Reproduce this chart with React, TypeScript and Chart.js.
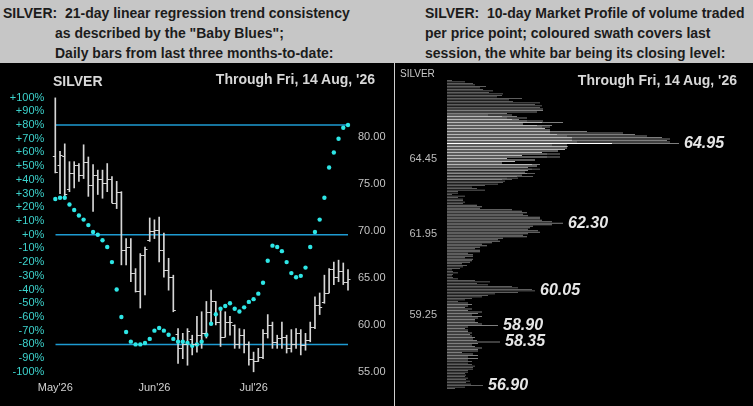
import { useEffect, useRef } from "react";
import { Chart, registerables } from "chart.js";

Chart.register(...registerables);

const FONT = "Arial, 'Liberation Sans', sans-serif";

// left panel: daily OHLC bars (price) + "Baby Blues" trend consistency (%)
const monthStarts = [0, 21, 42];
const monthLabels = ["May'26", "Jun'26", "Jul'26"];
const pctTicks = [100, 90, 80, 70, 60, 50, 40, 30, 20, 10, 0, -10, -20, -30, -40, -50, -60, -70, -80, -90, -100];
const priceTicks = [55, 60, 65, 70, 75, 80];
const trendBands = [80, 0, -80];

const opens = [
  78.0, 77.0, 78.0, 74.5, 76.2, 77.0, 76.0, 77.4, 74.9, 76.0,
  75.6, 75.1, 75.5, 73.0, 74.2, 68.0, 68.3, 65.5, 63.6, 67.4,
  69.0, 70.0, 70.1, 68.0, 65.9, 65.1, 59.0, 57.5, 58.0, 58.5,
  58.0, 58.9, 59.1, 61.4, 62.5, 60.3, 58.7, 60.3, 60.0, 58.0,
  58.9, 58.0, 56.4, 56.1, 56.6, 59.1, 60.0, 58.2, 58.6, 58.7,
  57.5, 58.0, 59.1, 57.9, 58.4, 59.8, 62.1, 62.4, 63.4, 66.0,
  65.1, 65.7, 64.6,
];
const highs = [
  84.2, 78.5, 79.3, 77.4, 77.4, 77.2, 79.2, 77.9, 77.1, 76.5,
  76.5, 77.2, 75.8, 75.3, 74.2, 69.2, 69.2, 66.0, 67.6, 68.3,
  71.4, 71.2, 71.5, 69.8, 67.1, 65.3, 59.6, 59.1, 59.6, 58.9,
  60.9, 61.4, 62.5, 63.7, 62.5, 61.8, 61.4, 60.9, 60.0, 59.6,
  59.5, 58.2, 57.1, 57.5, 59.5, 61.1, 60.3, 58.9, 60.3, 58.9,
  59.5, 59.6, 59.5, 59.1, 60.3, 63.0, 63.4, 65.3, 66.0, 66.7,
  66.9, 66.6, 65.9,
];
const lows = [
  76.2, 74.0, 73.5, 74.2, 74.6, 75.3, 75.6, 73.7, 72.1, 73.9,
  73.5, 74.2, 73.0, 72.4, 66.4, 66.4, 64.6, 63.5, 61.8, 63.2,
  68.9, 69.2, 66.7, 65.1, 63.7, 61.4, 55.9, 56.4, 55.7, 56.8,
  57.1, 57.5, 58.6, 60.0, 60.0, 57.7, 58.7, 58.9, 57.5, 57.5,
  57.0, 55.7, 55.0, 56.1, 56.4, 58.6, 57.5, 57.5, 57.5, 57.0,
  57.1, 57.5, 56.8, 57.3, 58.2, 59.6, 61.1, 62.3, 63.4, 64.3,
  64.6, 64.3, 63.7,
];
const closes = [
  76.3, 78.1, 74.0, 76.2, 77.0, 76.0, 77.4, 74.9, 76.0, 75.6,
  75.1, 75.5, 73.0, 74.2, 68.0, 68.3, 65.5, 63.6, 67.4, 68.1,
  70.0, 70.1, 68.0, 65.9, 65.1, 61.6, 57.5, 58.0, 59.3, 58.0,
  58.9, 59.1, 61.4, 62.5, 60.3, 58.7, 60.3, 60.3, 58.0, 58.9,
  58.0, 56.4, 56.1, 56.6, 59.1, 60.0, 58.2, 58.6, 58.7, 57.5,
  58.0, 59.1, 57.9, 58.4, 59.8, 62.1, 61.9, 63.4, 66.0, 65.1,
  65.7, 64.6, 64.9,
];
const trendPct = [
  26, 27, 27, 22, 18, 14, 11, 7, 2, 0,
  -4, -9, -20, -40, -60, -71, -78, -80, -80, -79,
  -76, -70, -68, -70, -73, -76, -78, -78, -79, -81,
  -80, -78, -73, -65, -58, -54, -52, -50, -54, -56,
  -53, -49, -47, -43, -35, -19, -8, -9, -12, -20,
  -28, -31, -30, -24, -9, 2, 11, 27, 49, 60,
  70, 78, 80,
];

// right panel: 10-day market profile, one bar per 0.05 from the top level down
const profileTop = 67.05;
const profileStep = 0.05;
const profileVolume = [
  5, 18, 26, 28, 39, 33, 36, 46, 42, 56,
  55, 50, 75, 62, 66, 93, 88, 95, 93, 96,
  96, 90, 60, 65, 70, 80, 72, 96, 116, 76,
  105, 103, 98, 103, 140, 176, 188, 200, 215, 223,
  220, 223, 232, 120, 121, 120, 118, 111, 95, 113,
  75, 113, 60, 88, 68, 55, 93, 90, 81, 93,
  81, 78, 88, 75, 86, 71, 65, 58, 56, 51,
  38, 25, 30, 38, 11, 11, 5, 18, 11, 16,
  16, 18, 16, 30, 35, 33, 65, 75, 80, 76,
  81, 93, 93, 95, 105, 116, 105, 86, 83, 81,
  91, 93, 81, 76, 80, 56, 51, 53, 45, 35,
  40, 33, 28, 33, 33, 21, 26, 26, 18, 26,
  25, 23, 15, 20, 16, 13, 5, 6, 11, 6,
  5, 6, 11, 28, 43, 30, 41, 65, 71, 85,
  88, 71, 48, 41, 35, 25, 18, 11, 21, 25,
  21, 18, 25, 21, 35, 31, 25, 35, 31, 28,
  28, 31, 35, 51, 21, 18, 21, 21, 25, 23,
  25, 28, 26, 30, 53, 31, 25, 28, 35, 31,
  31, 15, 26, 31, 21, 31, 21, 25, 21, 25,
  28, 26, 26, 21, 21, 18, 19, 18, 21, 19,
  23, 19, 24, 36, 18, 8,
];
const swathTop = "65.90";
const lastSessionVolume = [
  41, 55, 60, 65, 80, 95, 76, 90, 95, 98,
  103, 103, 103, 110, 120, 125, 125, 125, 130, 165,
  105, 120, 120, 118, 111, 95, 100, 75, 100, 60,
  88, 68, 55, 85, 90, 81, 85, 81, 78, 80,
  75, 70, 60, 55,
];
const closeLevel = "64.95";
const profileTicks = ["64.45", "61.95", "59.25"];
const profileCallouts = ["64.95", "62.30", "60.05", "58.90", "58.35", "56.90"];

const ohlcTicks = {
  id: "ohlcTicks",
  afterDatasetsDraw(chart: any) {
    const { ctx } = chart;
    const x = chart.scales.x;
    const y = chart.scales.yPrice;
    ctx.save();
    ctx.strokeStyle = "#d6d6d6";
    ctx.lineWidth = 1;
    ctx.beginPath();
    opens.forEach((o, i) => {
      const px = x.getPixelForValue(i);
      const yo = Math.round(y.getPixelForValue(o)) + 0.5;
      const yc = Math.round(y.getPixelForValue(closes[i])) + 0.5;
      ctx.moveTo(px - 2.5, yo);
      ctx.lineTo(px, yo);
      ctx.moveTo(px, yc);
      ctx.lineTo(px + 2.5, yc);
    });
    ctx.stroke();
    ctx.restore();
  },
};

const profileLabels = {
  id: "profileLabels",
  afterDatasetsDraw(chart: any) {
    const { ctx } = chart;
    const x = chart.scales.x;
    const y = chart.scales.y;
    const levels = chart.data.labels as string[];
    ctx.save();
    ctx.fillStyle = "#e6e6e6";
    ctx.font = `italic bold 16px ${FONT}`;
    ctx.textBaseline = "middle";
    profileCallouts.forEach((lv) => {
      const k = levels.indexOf(lv);
      if (k < 0) return;
      ctx.fillText(lv, x.getPixelForValue(profileVolume[k]) + 5, y.getPixelForValue(k));
    });
    ctx.restore();
  },
};

function TrendChart() {
  const ref = useRef<HTMLCanvasElement | null>(null);
  useEffect(() => {
    if (!ref.current) return;
    const last = opens.length - 1;
    const chart = new Chart(ref.current, {
      type: "line",
      data: {
        datasets: [
          ...trendBands.map((lv) => ({
            type: "line" as const,
            yAxisID: "yPct",
            data: [{ x: 0, y: lv }, { x: last, y: lv }],
            borderColor: "#1e9bd2",
            borderWidth: 1.5,
            pointRadius: 0,
            order: 3,
          })),
          {
            type: "bar" as const,
            yAxisID: "yPrice",
            data: highs.map((h, i) => ({ x: i, y: [lows[i], h] })) as any,
            backgroundColor: "#d6d6d6",
            barThickness: 1,
            borderWidth: 0,
            clip: false as any,
            order: 2,
          },
          {
            type: "line" as const,
            yAxisID: "yPct",
            data: trendPct.map((v, i) => ({ x: i, y: v })),
            showLine: false,
            pointRadius: 2.2,
            pointBackgroundColor: "#2ee6e6",
            pointBorderWidth: 0,
            clip: false as any,
            order: 1,
          },
        ],
      },
      options: {
        animation: false,
        responsive: true,
        maintainAspectRatio: false,
        layout: { padding: { top: 34.6, left: 0, right: 0, bottom: 0 } },
        plugins: { legend: { display: false }, tooltip: { enabled: false } },
        scales: {
          x: {
            type: "linear",
            min: 0,
            max: last,
            offset: false,
            grid: { display: false, drawTicks: false },
            border: { display: false },
            afterBuildTicks: (s: any) => {
              s.ticks = monthStarts.map((v) => ({ value: v }));
            },
            afterFit: (s: any) => {
              s.height = 34.2;
            },
            ticks: {
              color: "#d2d2d2",
              font: { family: FONT, size: 11 },
              padding: 10,
              maxRotation: 0,
              autoSkip: false,
              callback: (v: any) => monthLabels[monthStarts.indexOf(Number(v))] ?? "",
            },
          },
          yPct: {
            position: "left",
            min: -100,
            max: 100,
            grid: { display: false, drawTicks: false },
            border: { display: false },
            afterBuildTicks: (s: any) => {
              s.ticks = pctTicks.map((v) => ({ value: v }));
            },
            afterFit: (s: any) => {
              s.width = 55.3;
            },
            ticks: {
              color: "#3cd2cc",
              font: { family: FONT, size: 11 },
              padding: 11,
              autoSkip: false,
              callback: (v: any) => (Number(v) >= 0 ? `+${v}%` : `${v}%`),
            },
          },
          yPrice: {
            position: "right",
            min: 55,
            max: 84.23,
            grid: { display: false, drawTicks: false },
            border: { display: false },
            afterBuildTicks: (s: any) => {
              s.ticks = priceTicks.map((v) => ({ value: v }));
            },
            afterFit: (s: any) => {
              s.width = 42;
            },
            ticks: {
              color: "#c4c4c4",
              font: { family: FONT, size: 11 },
              padding: 10,
              autoSkip: false,
              callback: (v: any) => Number(v).toFixed(2),
            },
          },
        },
      } as any,
      plugins: [ohlcTicks],
    });
    return () => chart.destroy();
  }, []);
  return <canvas ref={ref} />;
}

function ProfileChart() {
  const ref = useRef<HTMLCanvasElement | null>(null);
  useEffect(() => {
    if (!ref.current) return;
    const levels = profileVolume.map((_, k) => (profileTop - k * profileStep).toFixed(2));
    const start = levels.indexOf(swathTop);
    const lastPart = levels.map((_, k) => {
      const j = k - start;
      return j >= 0 && j < lastSessionVolume.length ? lastSessionVolume[j] : 0;
    });
    const priorPart = profileVolume.map((v, k) => v - lastPart[k]);
    const chart = new Chart(ref.current, {
      type: "bar",
      data: {
        labels: levels,
        datasets: [
          {
            data: lastPart,
            backgroundColor: levels.map((lv) => (lv === closeLevel ? "#ffffff" : "#b8b8b8")),
            barPercentage: 0.6,
            categoryPercentage: 1,
          },
          {
            data: priorPart,
            backgroundColor: "#7e7e7e",
            barPercentage: 0.6,
            categoryPercentage: 1,
          },
        ],
      },
      options: {
        indexAxis: "y",
        animation: false,
        responsive: true,
        maintainAspectRatio: false,
        layout: { padding: { top: 6.7, bottom: 7.7, left: 0, right: 0 } },
        plugins: { legend: { display: false }, tooltip: { enabled: false } },
        scales: {
          x: { display: false, stacked: true, min: 0, max: 306 },
          y: {
            stacked: true,
            grid: { display: false, drawTicks: false },
            border: { display: false },
            afterFit: (s: any) => {
              s.width = 52;
            },
            ticks: {
              color: "#bcbcbc",
              font: { family: FONT, size: 11 },
              padding: 10,
              autoSkip: false,
              callback: (_v: any, i: number) => (profileTicks.includes(levels[i]) ? levels[i] : ""),
            },
          },
        },
      } as any,
      plugins: [profileLabels],
    });
    return () => chart.destroy();
  }, []);
  return <canvas ref={ref} />;
}

const headText: React.CSSProperties = {
  position: "absolute",
  fontFamily: FONT,
  fontWeight: "bold",
  fontSize: 14,
  lineHeight: "20px",
  color: "#1c1c1c",
  whiteSpace: "pre",
};

const chartText: React.CSSProperties = {
  position: "absolute",
  fontFamily: FONT,
  fontWeight: "bold",
  fontSize: 14,
  lineHeight: "16px",
  color: "#d8d8d8",
  whiteSpace: "pre",
};

export default function App() {
  return (
    <div
      style={{
        position: "absolute",
        left: 0,
        top: 0,
        width: 753,
        height: 406,
        background: "#000",
        overflow: "hidden",
      }}
    >
      <div style={{ position: "absolute", left: 0, top: 0, width: 753, height: 63, background: "#c6c6c6" }} />
      <div style={{ ...headText, left: 3, top: 3 }}>{"SILVER:  21-day linear regression trend consistency"}</div>
      <div style={{ ...headText, left: 55, top: 23 }}>{'as described by the "Baby Blues";'}</div>
      <div style={{ ...headText, left: 55, top: 43 }}>{"Daily bars from last three months-to-date:"}</div>
      <div style={{ ...headText, left: 425, top: 3 }}>{"SILVER:  10-day Market Profile of volume traded"}</div>
      <div style={{ ...headText, left: 425, top: 23 }}>{"per price point; coloured swath covers last"}</div>
      <div style={{ ...headText, left: 425, top: 43 }}>{"session, the white bar being its closing level:"}</div>

      <div style={{ position: "absolute", left: 0, top: 63, width: 390, height: 343 }}>
        <TrendChart />
      </div>
      <div style={{ position: "absolute", left: 394, top: 63, width: 1, height: 343, background: "#cfcfcf" }} />
      <div style={{ position: "absolute", left: 395, top: 63, width: 358, height: 343 }}>
        <ProfileChart />
      </div>

      <div style={{ ...chartText, left: 53, top: 73 }}>SILVER</div>
      <div style={{ ...chartText, left: 175, top: 71, width: 200, textAlign: "right" }}>
        {"Through Fri, 14 Aug, '26"}
      </div>
      <div style={{ ...chartText, left: 400, top: 66, fontWeight: "normal", fontSize: 10, color: "#c8c8c8" }}>
        SILVER
      </div>
      <div style={{ ...chartText, left: 537, top: 72, width: 200, textAlign: "right" }}>
        {"Through Fri, 14 Aug, '26"}
      </div>
    </div>
  );
}
